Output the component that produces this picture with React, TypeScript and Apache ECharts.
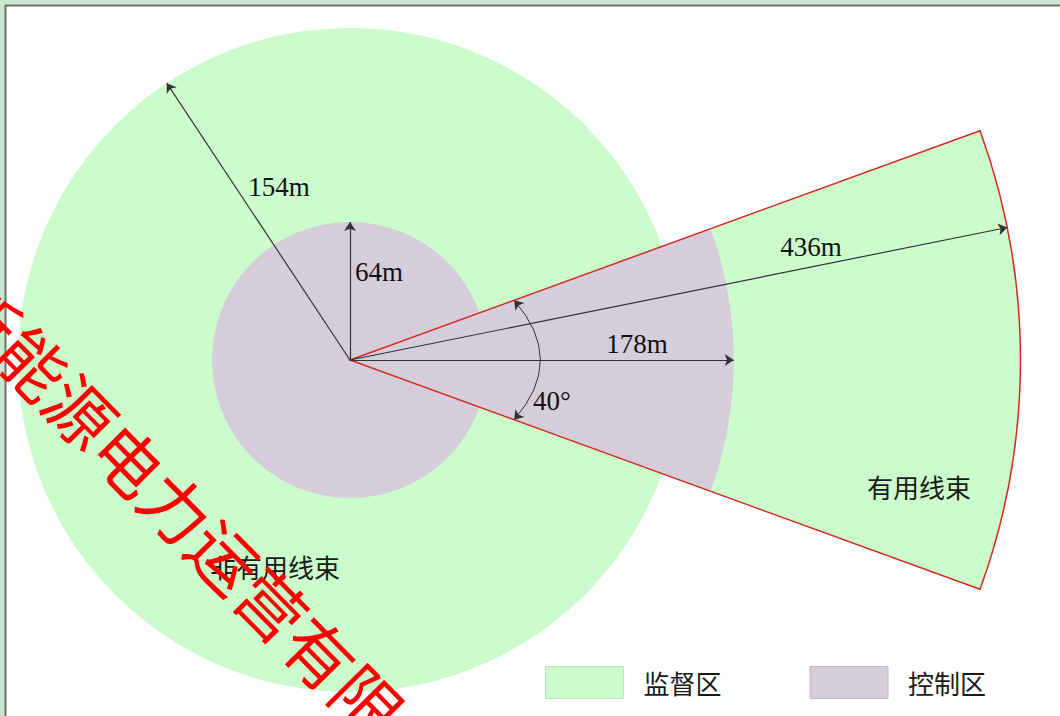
import React, { useEffect, useRef } from "react";
import * as echarts from "echarts";

const W = 1060;
const H = 716;

// zones
const zoneNames = ["监督区", "控制区"];
const zoneColors = ["#ccfccc", "#d6cddb"];
const zoneBorder = ["#b5e6b5", "#c2b9c7"];
const zoneCircleRadius = [154, 64]; // m, non-useful beam area
const zoneBeamReach = [311, 178]; // m as drawn (436m reach drawn shortened)
const beamAngleDeg = 40;

// dimension arrows
const dimLabels = ["154m", "64m", "178m", "436m"];
const dimLengths = [154, 64, 178, 311];
const dimAnglesDeg = [123.5, 90, 0, 11.4];
const angleLabel = "40°";
const angleArcRadius = 81;

// region labels
const regionLabels = ["非有用线束", "有用线束"];

// watermark
const watermarkText = "新能源电力运营有限公司";

// layout (pixels)
const pxPerM = 332 / 154;
const originPx = [350, 360];

const toRad = (d: number) => (d * Math.PI) / 180;
const polar = (r: number, deg: number): [number, number] => [
  r * Math.cos(toRad(deg)),
  r * Math.sin(toRad(deg)),
];

// label anchors in metres
const dimLabelPos: [number, number][] = [
  [-32.9, 80.4],
  [2.3, 40.6],
  [133.1, 7.2],
  [213.8, 52.6],
];
const dimLabelAlign = ["center", "left", "center", "center"];
const angleLabelPos: [number, number] = [93.7, -18.8];
const regionLabelPos: [number, number][] = [
  [-34.8, -95.6],
  [263.9, -58.9],
];

const NUM_FONT = "'Liberation Serif', 'DejaVu Serif', serif";
const CJK_FONT = "'Noto Sans CJK SC', 'Noto Sans', sans-serif";

export default function App() {
  const ref = useRef<HTMLDivElement>(null);

  useEffect(() => {
    if (!ref.current) return;
    const chart = echarts.init(ref.current, undefined, { renderer: "svg" });
    const half = toRad(beamAngleDeg / 2);

    const zoneSeries = zoneNames.map((name, i) => ({
      type: "custom",
      name,
      coordinateSystem: "cartesian2d",
      z: 2 + i,
      silent: true,
      itemStyle: { color: zoneColors[i] },
      data: [0],
      renderItem: (_p: any, api: any) => {
        const c = api.coord([0, 0]);
        const px = (m: number) => api.size([m, 0])[0];
        return {
          type: "group",
          children: [
            {
              type: "circle",
              shape: { cx: c[0], cy: c[1], r: px(zoneCircleRadius[i]) },
              style: { fill: zoneColors[i] },
            },
            {
              type: "sector",
              shape: {
                cx: c[0],
                cy: c[1],
                r0: 0,
                r: px(zoneBeamReach[i]),
                startAngle: -half,
                endAngle: half,
                clockwise: true,
              },
              style: { fill: zoneColors[i] },
            },
          ],
        };
      },
    }));

    const outlineSeries = {
      type: "custom",
      coordinateSystem: "cartesian2d",
      z: 5,
      silent: true,
      data: [0],
      renderItem: (_p: any, api: any) => {
        const c = api.coord([0, 0]);
        const px = (m: number) => api.size([m, 0])[0];
        return {
          type: "sector",
          shape: {
            cx: c[0],
            cy: c[1],
            r0: 0,
            r: px(zoneBeamReach[0]),
            startAngle: -half,
            endAngle: half,
            clockwise: true,
          },
          style: { fill: "none", stroke: "#d42a22", lineWidth: 1.5 },
        };
      },
    };

    const arrowSeries = {
      type: "lines",
      coordinateSystem: "cartesian2d",
      z: 6,
      silent: true,
      symbol: ["none", "arrow"],
      symbolSize: 9,
      lineStyle: { color: "#333", width: 1.2, opacity: 1 },
      data: dimLengths.map((len, i) => ({
        coords: [[0, 0], polar(len, dimAnglesDeg[i])],
      })),
    };

    const angleSeries = {
      type: "lines",
      coordinateSystem: "cartesian2d",
      z: 6,
      silent: true,
      symbol: ["arrow", "arrow"],
      symbolSize: 9,
      lineStyle: { color: "#333", width: 1, opacity: 1, curveness: 0.44 },
      data: [
        {
          coords: [
            polar(angleArcRadius, beamAngleDeg / 2),
            polar(angleArcRadius, -beamAngleDeg / 2),
          ],
        },
      ],
    };

    const textSeries = {
      type: "custom",
      coordinateSystem: "cartesian2d",
      z: 7,
      silent: true,
      data: [0],
      renderItem: (_p: any, api: any) => {
        const children: any[] = [];
        dimLabels.forEach((t, i) => {
          const p = api.coord(dimLabelPos[i]);
          children.push({
            type: "text",
            x: p[0],
            y: p[1],
            style: {
              text: t,
              fontSize: 27,
              fontFamily: NUM_FONT,
              fill: "#111",
              align: dimLabelAlign[i],
              verticalAlign: "middle",
            },
          });
        });
        const ap = api.coord(angleLabelPos);
        children.push({
          type: "text",
          x: ap[0],
          y: ap[1],
          style: {
            text: angleLabel,
            fontSize: 27,
            fontFamily: NUM_FONT,
            fill: "#111",
            align: "center",
            verticalAlign: "middle",
          },
        });
        regionLabels.forEach((t, i) => {
          const p = api.coord(regionLabelPos[i]);
          children.push({
            type: "text",
            x: p[0],
            y: p[1],
            style: {
              text: t,
              fontSize: 26,
              fontFamily: CJK_FONT,
              fill: "#1a1a1a",
              align: "center",
              verticalAlign: "middle",
            },
          });
        });
        return { type: "group", children };
      },
    };

    chart.setOption({
      animation: false,
      backgroundColor: "#cbe7ce",
      grid: { left: 0, right: 0, top: 0, bottom: 0, containLabel: false },
      xAxis: {
        type: "value",
        min: -originPx[0] / pxPerM,
        max: (W - originPx[0]) / pxPerM,
        show: false,
      },
      yAxis: {
        type: "value",
        min: -(H - originPx[1]) / pxPerM,
        max: originPx[1] / pxPerM,
        show: false,
      },
      legend: {
        data: zoneNames.map((n, i) => ({
          name: n,
          itemStyle: { color: zoneColors[i], borderColor: zoneBorder[i], borderWidth: 1 },
        })),
        left: 545,
        top: 666,
        padding: 0,
        icon: "rect",
        itemWidth: 78,
        itemHeight: 32,
        itemGap: 88,
        selectedMode: false,
        textStyle: {
          fontSize: 26,
          fontFamily: CJK_FONT,
          color: "#1a1a1a",
          padding: [0, 0, 0, 15],
        },
      },
      graphic: [
        {
          type: "rect",
          z: 0,
          silent: true,
          shape: { x: 6, y: 6, width: W, height: H },
          style: { fill: "#ffffff" },
        },
        {
          type: "line",
          z: 1,
          silent: true,
          shape: { x1: 5, y1: 5.5, x2: W, y2: 5.5 },
          style: { stroke: "#68736d", lineWidth: 2 },
        },
        {
          type: "line",
          z: 1,
          silent: true,
          shape: { x1: 5.5, y1: 5, x2: 5.5, y2: H },
          style: { stroke: "#68736d", lineWidth: 2 },
        },
        {
          type: "text",
          z: 100,
          silent: true,
          x: -37,
          y: 289,
          rotation: toRad(-45.3),
          style: {
            text: watermarkText,
            fontSize: 68,
            fontFamily: CJK_FONT,
            fill: "#ff0000",
            align: "left",
            verticalAlign: "middle",
          },
        },
      ],
      series: [...zoneSeries, outlineSeries, arrowSeries, angleSeries, textSeries],
    });

    return () => chart.dispose();
  }, []);

  return (
    <div
      ref={ref}
      style={{ position: "fixed", left: 0, top: 0, width: W, height: H }}
    />
  );
}
